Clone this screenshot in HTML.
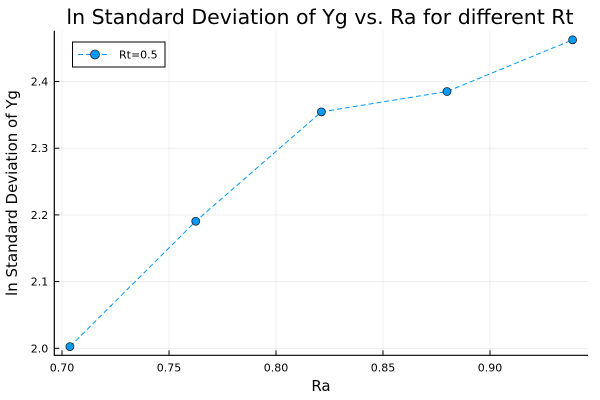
<!DOCTYPE html>
<html><head><meta charset="utf-8"><style>body{margin:0;background:#fff}svg{display:block;font-family:"DejaVu Sans","Liberation Sans",sans-serif}</style></head>
<body>
<svg id="c" width="600" height="400"></svg>
<script>
const xs=[0.7037,0.7625,0.8212,0.8799,0.9386];
const ys=[2.0025,2.1905,2.3545,2.385,2.4625];
const xTicks=[0.70,0.75,0.80,0.85,0.90];
const xTickLabels=["0.70","0.75","0.80","0.85","0.90"];
const yTicks=[2.0,2.1,2.2,2.3,2.4];
const yTickLabels=["2.0","2.1","2.2","2.3","2.4"];
const L=54.3,R=588,T=30.7,B=355.3;
const x0=0.6964,x1=0.9458,y0=1.9895,y1=2.4762;
const sx=v=>L+(v-x0)/(x1-x0)*(R-L);
const sy=v=>B-(v-y0)/(y1-y0)*(B-T);
const svg=document.getElementById('c');const NS='http://www.w3.org/2000/svg';
function mk(t,a,p){const e=document.createElementNS(NS,t);for(const k in a)e.setAttribute(k,a[k]);(p||svg).appendChild(e);return e;}
xTicks.forEach((v,i)=>{
 const g=mk('line',{x1:sx(v),x2:sx(v),y1:T,y2:B,stroke:'#000','stroke-opacity':0.1,'stroke-width':0.6});
 
 
 const tk=mk('line',{x1:sx(v),x2:sx(v),y1:B,y2:B-5,stroke:'#000','stroke-width':1});
 
 
 const t=mk('text',{x:sx(v),y:B+16,'text-anchor':'middle','font-size':11,fill:'#000'});t.textContent=xTickLabels[i];
 
 
});
yTicks.forEach((v,i)=>{
 const g=mk('line',{x1:L,x2:R,y1:sy(v),y2:sy(v),stroke:'#000','stroke-opacity':0.1,'stroke-width':0.6});
 
 
 const tk=mk('line',{x1:L,x2:L+5,y1:sy(v),y2:sy(v),stroke:'#000','stroke-width':1});
 
 
 const t=mk('text',{x:L-6,y:sy(v)+4,'text-anchor':'end','font-size':11,fill:'#000'});t.textContent=yTickLabels[i];
 
 
});
const ax=mk('path',{d:`M${L},${T}V${B}H${R}`,fill:'none',stroke:'#000','stroke-width':1.2});


const ln=mk('polyline',{points:xs.map((v,i)=>sx(v)+','+sy(ys[i])).join(' '),fill:'none',stroke:'#009af9','stroke-width':1,'stroke-dasharray':'5,3'});


xs.forEach((v,i)=>{
 const c=mk('circle',{cx:sx(v),cy:sy(ys[i]),r:4,fill:'#009af9',stroke:'#222','stroke-width':0.8});
 
 
});
</script>
<svg style="position:absolute;left:0;top:0" width="600" height="400">
<text x="320" y="24" text-anchor="middle" font-size="20.5">ln Standard Deviation of Yg vs. Ra for different Rt</text>
<text x="321" y="391" text-anchor="middle" font-size="15">Ra</text>
<text transform="translate(17,193) rotate(-90)" text-anchor="middle" font-size="15">ln Standard Deviation of Yg</text>
<g>
<rect x="72.5" y="42" width="92.5" height="25" fill="#fff" stroke="#000" stroke-width="1"/>
<line x1="78" x2="110" y1="54.5" y2="54.5" stroke="#009af9" stroke-width="1" stroke-dasharray="5,3"/>
<circle cx="95" cy="54.5" r="4.5" fill="#009af9" stroke="#222" stroke-width="0.8"/>
<text x="119" y="58.5" font-size="11">Rt=0.5</text>
</g>
</svg>
</body></html>
